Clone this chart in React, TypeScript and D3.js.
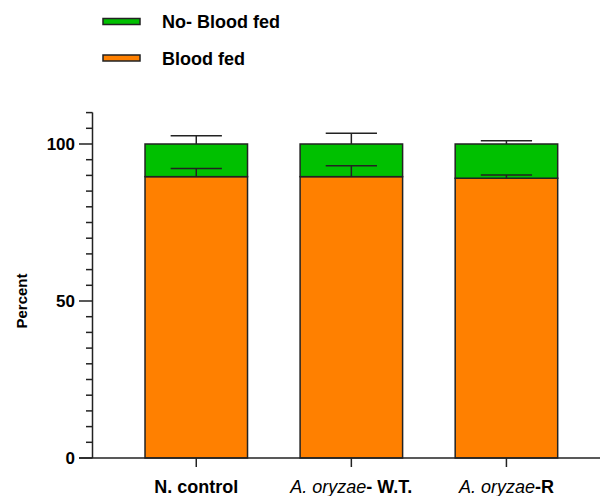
import React from "react";
import * as d3 from "d3";

const groups = ["N. control", "A. oryzae- W.T.", "A. oryzae-R"];
const bloodFed = [89.6, 89.6, 89.1];
const noBloodFed = [10.4, 10.4, 10.9];
const errBloodFed = [2.6, 3.5, 1.0];
const errNoBloodFed = [2.6, 3.4, 1.0];
const yTicks = [0, 50, 100];

const W = 600;
const H = 496;
const font = "Arial, 'Liberation Sans', sans-serif";

export default function App() {
  const x = d3.scaleBand().domain(groups).range([114, 588.7]).paddingInner(0.339).paddingOuter(0.2);
  const y = d3.scaleLinear().domain([0, 110]).range([458, 112.6]);
  const minor = d3.range(0, 111, 5);
  const bw = x.bandwidth();

  const label = (g: string, i: number) => {
    if (i === 0) return <tspan fontWeight="bold">{g}</tspan>;
    const rest = g.replace("A. oryzae", "");
    return (
      <>
        <tspan fontStyle="italic">A. oryzae</tspan>
        <tspan fontWeight="bold">{rest}</tspan>
      </>
    );
  };

  return (
    <svg width={W} height={H} style={{ position: "absolute", left: 0, top: 0 }} fontFamily={font}>
      <rect width={W} height={H} fill="#fff" />
      {/* legend */}
      <rect x={103} y={18.5} width={37} height={6} fill="#00c000" stroke="#222" strokeWidth={1.5} />
      <text x={162} y={28} fontSize={18} fontWeight="bold">No- Blood fed</text>
      <rect x={103} y={55} width={37} height={6} fill="#ff8000" stroke="#222" strokeWidth={1.5} />
      <text x={162} y={65} fontSize={18} fontWeight="bold">Blood fed</text>

      {/* bars */}
      {groups.map((g, i) => {
        const x0 = x(g)!;
        const cx = x0 + bw / 2;
        const top = bloodFed[i] + noBloodFed[i];
        return (
          <g key={g}>
            <rect x={x0} y={y(bloodFed[i])} width={bw} height={y(0) - y(bloodFed[i])} fill="#ff8000" stroke="#222" strokeWidth={1.5} />
            <rect x={x0} y={y(top)} width={bw} height={y(bloodFed[i]) - y(top)} fill="#00c000" stroke="#222" strokeWidth={1.5} />
            <g stroke="#222" strokeWidth={1.5}>
              <line x1={cx} x2={cx} y1={y(top)} y2={y(top + errNoBloodFed[i])} />
              <line x1={cx - bw / 4} x2={cx + bw / 4} y1={y(top + errNoBloodFed[i])} y2={y(top + errNoBloodFed[i])} />
              <line x1={cx} x2={cx} y1={y(bloodFed[i])} y2={y(bloodFed[i] + errBloodFed[i])} />
              <line x1={cx - bw / 4} x2={cx + bw / 4} y1={y(bloodFed[i] + errBloodFed[i])} y2={y(bloodFed[i] + errBloodFed[i])} />
            </g>
          </g>
        );
      })}

      {/* y axis */}
      <g stroke="#222" strokeWidth={1.5}>
        <line x1={92.5} x2={92.5} y1={y(110)} y2={y(0)} />
        {minor.map((t) => (
          <line key={t} x1={yTicks.includes(t) ? 79 : 86} x2={92.5} y1={y(t)} y2={y(t)} />
        ))}
        <line x1={79} x2={600} y1={y(0)} y2={y(0)} />
        {groups.map((g) => (
          <line key={g} x1={x(g)! + bw / 2} x2={x(g)! + bw / 2} y1={y(0)} y2={y(0) + 9} />
        ))}
      </g>
      {yTicks.map((t) => (
        <text key={t} x={75} y={y(t)} dy="0.36em" textAnchor="end" fontSize={17} fontWeight="bold">{t}</text>
      ))}
      <text transform={`translate(27,${y(50)}) rotate(-90)`} textAnchor="middle" fontSize={15} fontWeight="bold">Percent</text>

      {/* x labels */}
      {groups.map((g, i) => (
        <text key={g} x={x(g)! + bw / 2} y={493} textAnchor="middle" fontSize={18}>
          {label(g, i)}
        </text>
      ))}
    </svg>
  );
}
